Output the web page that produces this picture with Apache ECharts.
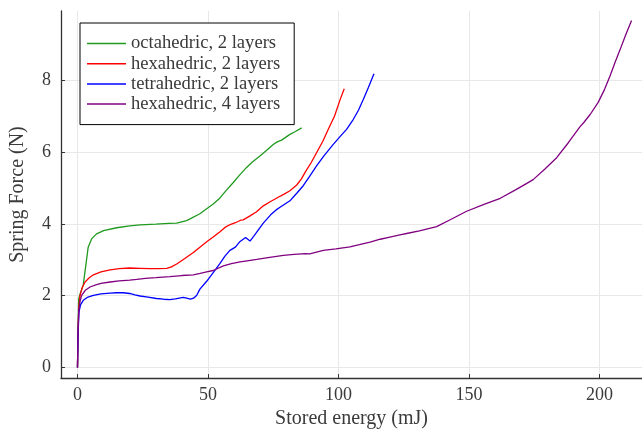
<!DOCTYPE html>
<html>
<head>
<meta charset="utf-8">
<script src="https://cdn.jsdelivr.net/npm/echarts@6/dist/echarts.min.js"></script>
<style>
  html, body { margin: 0; padding: 0; background: #fff; }
  #chart { width: 642px; height: 434px; }
</style>
</head>
<body>
<div id="chart"></div>
<script>
// [stored energy (mJ), spring force (N)]
const octahedric2 = [
  [0, 0], [0.2, 1.0], [0.45, 1.9], [1.0, 2.05], [2.2, 2.3], [3.2, 2.85], [4.1, 3.35],
  [5.4, 3.58], [7.3, 3.72], [10, 3.81], [15, 3.89], [20, 3.94], [24, 3.97], [30, 3.99],
  [35, 4.01], [38, 4.02], [41.8, 4.09], [43.5, 4.15], [46.9, 4.28], [49.5, 4.42],
  [52, 4.55], [54.6, 4.72], [57, 4.93], [59.7, 5.15], [62, 5.35], [64.8, 5.57],
  [67, 5.72], [69.9, 5.89], [72.5, 6.05], [75, 6.21], [76.5, 6.28], [78.2, 6.33],
  [80, 6.42], [81.4, 6.49], [83.5, 6.57], [85.9, 6.67]
]
const hexahedric2 = [
  [0, 0], [0.2, 1.0], [0.5, 1.65], [0.96, 2.0], [1.8, 2.22], [2.9, 2.38], [4.5, 2.5],
  [6.1, 2.58], [9, 2.66], [12.5, 2.72], [16, 2.75], [20, 2.77], [24, 2.76], [27.8, 2.75],
  [31, 2.75], [34.2, 2.76], [36, 2.8], [38, 2.88], [40, 2.98], [41.8, 3.07], [44.4, 3.2],
  [46.9, 3.35], [49.5, 3.5], [52, 3.63], [54.6, 3.78], [56.5, 3.9], [58.5, 3.98],
  [60.5, 4.03], [62.5, 4.1], [63.5, 4.11], [66.1, 4.22], [68.5, 4.33], [71.2, 4.5],
  [74, 4.62], [76.9, 4.74], [79, 4.82], [81.4, 4.92], [84, 5.08], [85.8, 5.25],
  [87.2, 5.43], [89.5, 5.7], [91.6, 5.98], [94, 6.3], [96.1, 6.63], [98.5, 7.0],
  [100.6, 7.45], [102.2, 7.76]
]
const tetrahedric2 = [
  [0, 0], [0.2, 0.9], [0.57, 1.55], [1.2, 1.75], [2.2, 1.87], [4, 1.96], [6.1, 2.01],
  [9, 2.05], [12.5, 2.07], [15, 2.08], [17.5, 2.08], [20, 2.06], [22, 2.02], [24, 1.99],
  [27, 1.96], [30.3, 1.92], [33, 1.9], [35.4, 1.89], [37.5, 1.91], [39.5, 1.94],
  [40.5, 1.95], [41.8, 1.93], [43.3, 1.9], [44.5, 1.93], [45.7, 2.01], [46.9, 2.18],
  [49.5, 2.4], [52.5, 2.69], [54.6, 2.9], [56.5, 3.1], [58.4, 3.26], [60.5, 3.35],
  [62.3, 3.51], [64.4, 3.62], [65, 3.6], [66.1, 3.52], [67.5, 3.65], [69.5, 3.85],
  [71.2, 4.02], [74, 4.25], [76, 4.38], [77.6, 4.46], [79.5, 4.55], [81.4, 4.64],
  [84, 4.85], [86.5, 5.06], [89, 5.33], [91.6, 5.61], [94.5, 5.9], [98, 6.21],
  [100.5, 6.42], [103.1, 6.63], [105.7, 6.91], [107.7, 7.17], [109.5, 7.46],
  [111.5, 7.8], [113.6, 8.18]
]
const hexahedric4 = [
  [0, 0], [0.2, 0.9], [0.45, 1.55], [1.0, 1.85], [1.6, 2.01], [3, 2.15], [4.8, 2.24],
  [7, 2.3], [9, 2.34], [12.5, 2.38], [16, 2.41], [20, 2.43], [22.7, 2.45], [26, 2.48],
  [30, 2.5], [35.4, 2.53], [40, 2.56], [44.4, 2.58], [47, 2.62], [49.5, 2.66], [52, 2.7],
  [55.9, 2.83], [59, 2.89], [62.3, 2.94], [65, 2.97], [68.7, 3.01], [73, 3.06],
  [78.9, 3.12], [83, 3.15], [87.2, 3.17], [87.8, 3.13], [89, 3.16], [94.2, 3.26],
  [99, 3.3], [104.4, 3.36], [108, 3.42], [112.1, 3.49], [116, 3.57], [119.7, 3.63],
  [124, 3.7], [126.1, 3.73], [126.8, 3.7], [131, 3.8], [137.6, 3.92], [143, 4.12],
  [149.1, 4.35], [156, 4.55], [162, 4.71], [168, 4.95], [172, 5.12], [174.6, 5.23],
  [179, 5.52], [183.6, 5.84], [188, 6.25], [192.5, 6.7], [194, 6.82], [196.5, 7.05],
  [199.5, 7.38], [202, 7.75], [204, 8.11], [206, 8.5], [207.9, 8.85], [210, 9.25],
  [212.3, 9.66]
]
const xTicks = [0, 50, 100, 150, 200]
const yTicks = [0, 2, 4, 6, 8]

const chart = echarts.init(document.getElementById('chart'), null, { renderer: 'canvas' })
const font = '"Liberation Serif", "Times New Roman", serif'
const items = [
  { name: 'octahedric, 2 layers', data: octahedric2, color: '#1f9a1f' },
  { name: 'hexahedric, 2 layers', data: hexahedric2, color: '#ff0000' },
  { name: 'tetrahedric, 2 layers', data: tetrahedric2, color: '#0000ff' },
  { name: 'hexahedric, 4 layers', data: hexahedric4, color: '#800080' }
]
const axisCommon = {
  axisLine: { show: true, onZero: false, lineStyle: { color: '#333', width: 1.3 } },
  axisTick: { show: true, inside: true, length: 4, lineStyle: { color: '#333', width: 1 } },
  splitLine: { show: true, lineStyle: { color: '#e8e8e8', width: 1 } },
  nameTextStyle: { fontFamily: font, fontSize: 20, color: '#3a3a3a' }
}
chart.setOption({
  animation: false,
  backgroundColor: '#fff',
  grid: { left: 61, right: 0, top: 11, bottom: 54, containLabel: false },
  legend: {
    orient: 'vertical',
    left: 80,
    top: 23,
    padding: [11, 14, 11, 7],
    icon: 'rect',
    itemWidth: 39,
    itemHeight: 1.5,
    itemGap: 1.2,
    backgroundColor: '#fff',
    borderColor: '#000',
    borderWidth: 1,
    borderRadius: 0,
    textStyle: { fontFamily: font, fontSize: 18.6, lineHeight: 18.2, color: '#3a3a3a' }
  },
  xAxis: Object.assign({}, axisCommon, {
    type: 'value',
    min: -6.32,
    max: 216.3,
    name: 'Stored energy (mJ)',
    nameLocation: 'middle',
    nameGap: 22,
    axisTick: Object.assign({}, axisCommon.axisTick, { customValues: xTicks }),
    axisLabel: { customValues: xTicks, margin: 8, fontFamily: font, fontSize: 18, color: '#3a3a3a' }
  }),
  yAxis: Object.assign({}, axisCommon, {
    type: 'value',
    min: -0.296,
    max: 9.925,
    name: 'Spring Force (N)',
    nameLocation: 'middle',
    nameGap: 33,
    axisTick: Object.assign({}, axisCommon.axisTick, { customValues: yTicks }),
    axisLabel: { customValues: yTicks, margin: 10, fontFamily: font, fontSize: 18, color: '#3a3a3a' }
  }),
  series: items.map(it => ({
    name: it.name,
    type: 'line',
    data: it.data,
    symbol: 'none',
    smooth: false,
    itemStyle: { color: it.color },
    lineStyle: { color: it.color, width: 1.3 }
  }))
})
</script>
</body>
</html>
